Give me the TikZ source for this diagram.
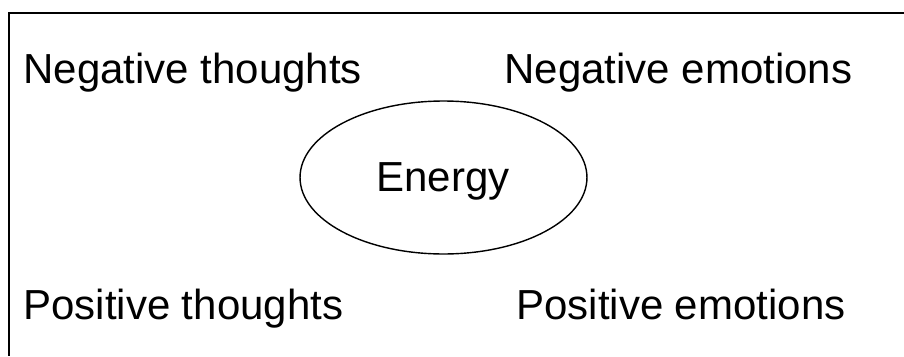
\documentclass[tikz,border=0pt]{standalone}
\usepackage{fontspec}
\setmainfont{Liberation Sans}
\usetikzlibrary{shapes.geometric}

\begin{document}
\begin{tikzpicture}[
    x=0.02cm, y=-0.02cm,
    word/.style={inner sep=0pt, font=\fontsize{23.9}{28}\selectfont},
    frame/.style={line width=1.1pt},
]

\useasboundingbox (0,0) rectangle (904,356);

% ====== Frame (top and left only) ======
\coordinate (tl) at (9,13);
\coordinate (tr) at (904,13);
\coordinate (bl) at (9,356);
\draw[frame] (tr) -- (tl) -- (bl);

% ====== Centre ======
\node[ellipse, draw, thick, minimum width=5.74cm, minimum height=3.06cm] (ring) at (443.5,177.5) {};
\node[word, anchor=base] (energy) at (443,191) {Energy};

% ====== Corners ======
\node[word, anchor=base west] (negthought) at (23,83) {Negative thoughts};
\node[word, anchor=base west] (negemotion) at (504,83) {Negative emotions};
\node[word, anchor=base west] (posthought) at (23,319) {Positive thoughts};
\node[word, anchor=base west] (posemotion) at (516,319) {Positive emotions};

\end{tikzpicture}
\end{document}
